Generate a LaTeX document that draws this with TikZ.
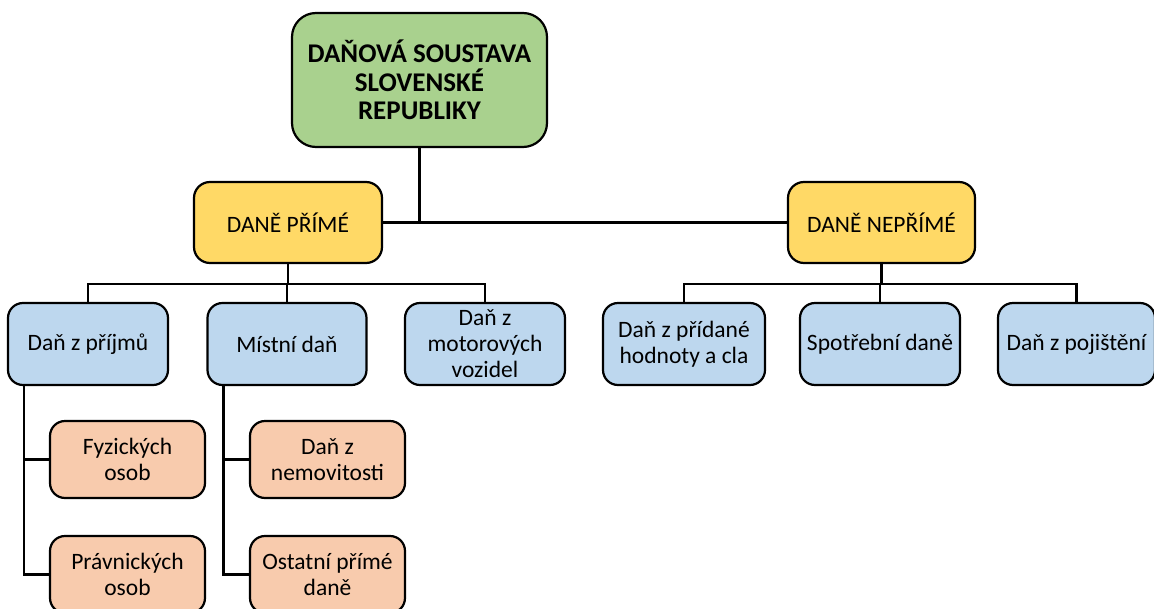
\documentclass[tikz,border=0pt]{standalone}
\usepackage{fontspec}
\setmainfont{Carlito}
\definecolor{rootgreen}{HTML}{A9D18E}
\definecolor{catyellow}{HTML}{FFD966}
\definecolor{leafblue}{HTML}{BDD7EE}
\definecolor{suborange}{HTML}{F8CBAD}
\begin{document}
\begin{tikzpicture}[x=1pt,y=-1pt,
  box/.style={draw=black, line width=2.2pt, align=center, inner sep=0pt,
    font=\fontsize{23.5}{26}\selectfont},
  rootbox/.style={box, fill=rootgreen, rounded corners=24pt, minimum width=255pt, minimum height=134pt,
    font=\fontsize{27}{28.5}\selectfont\bfseries},
  catbox/.style={box, fill=catyellow, rounded corners=16pt, minimum width=188pt, minimum height=81pt},
  leafbox/.style={box, fill=leafblue, rounded corners=15pt, minimum width=160pt, minimum height=82pt},
  subbox/.style={box, fill=suborange, rounded corners=15pt, minimum width=155pt, minimum height=77pt},
  conn/.style={draw=black, line width=2.2pt}]
\useasboundingbox (0,0) rectangle (1154,608);

% nodes
\node[rootbox] (root) at (419.5,80) {DAŇOVÁ SOUSTAVA\\SLOVENSKÉ\\REPUBLIKY};
\node[catbox] (prime) at (288,222.5) {DANĚ PŘÍMÉ};
\node[catbox, minimum width=187pt] (neprime) at (881.5,222.5) {DANĚ NEPŘÍMÉ};

\node[leafbox] (b1) at (88,344) {Daň z příjmů};
\node[leafbox, minimum width=159pt] (b2) at (287,344) {Místní daň};
\node[leafbox] (b3) at (485,344) {Daň z\\motorových\\vozidel};
\node[leafbox, minimum width=162pt] (b4) at (684,344) {Daň z přídané\\hodnoty a cla};
\node[leafbox] (b5) at (880,344) {Spotřební daně};
\node[leafbox, minimum width=157pt] (b6) at (1076.5,344) {Daň z pojištění};

\node[subbox] (o1) at (127.5,459.5) {Fyzických\\osob};
\node[subbox] (o2) at (127.5,574.5) {Právnických\\osob};
\node[subbox] (o3) at (327.5,459.5) {Daň z\\nemovitosti};
\node[subbox] (o4) at (327.5,574.5) {Ostatní přímé\\daně};

\coordinate (bus) at (0,284);

% connectors
\draw[conn] (prime.east) -- (neprime.west);
\draw[conn] (root.south) -- (root.south |- prime.east);

\draw[conn] (prime.south) -- (prime.south |- bus);
\draw[conn] (b1.north) -- (b1.north |- bus) -- (b3.north |- bus) -- (b3.north);
\draw[conn] (b2.north) -- (b2.north |- bus);

\draw[conn] (neprime.south) -- (neprime.south |- bus);
\draw[conn] (b4.north) -- (b4.north |- bus) -- (b6.north |- bus) -- (b6.north);
\draw[conn] (b5.north) -- (b5.north |- bus);

\draw[conn] ([xshift=17pt]b1.south west) |- (o2.west);
\draw[conn] ([xshift=17pt]b1.south west |- o1.west) -- (o1.west);
\draw[conn] ([xshift=17pt]b2.south west) |- (o4.west);
\draw[conn] ([xshift=17pt]b2.south west |- o3.west) -- (o3.west);
\end{tikzpicture}
\end{document}
